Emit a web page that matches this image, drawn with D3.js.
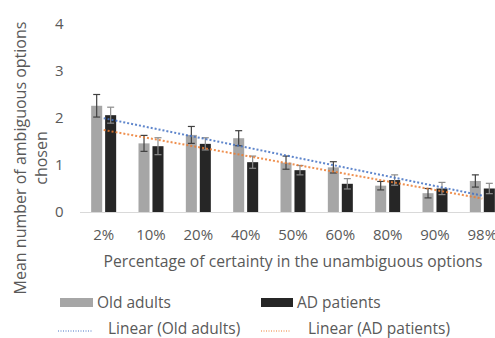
<!DOCTYPE html>
<html>
<head>
<meta charset="utf-8">
<script src="https://cdn.jsdelivr.net/npm/d3@7"></script>
<style>
  html, body { margin: 0; padding: 0; background: #fff; }
  svg { display: block; }
  text { font-family: "Open Sans", sans-serif; fill: #595959; }
</style>
</head>
<body>
<svg id="chart" width="495" height="338"></svg>
<script>
const categories = ["2%", "10%", "20%", "40%", "50%", "60%", "80%", "90%", "98%"];
const oldAdults = [2.26, 1.46, 1.64, 1.57, 1.05, 0.95, 0.56, 0.40, 0.66];
const oldAdultsErr = [0.24, 0.17, 0.18, 0.16, 0.14, 0.12, 0.09, 0.10, 0.13];
const adPatients = [2.06, 1.40, 1.45, 1.06, 0.89, 0.60, 0.68, 0.50, 0.50];
const adPatientsErr = [0.17, 0.18, 0.13, 0.13, 0.10, 0.11, 0.11, 0.13, 0.11];
const yTicks = [0, 1, 2, 3, 4];
const seriesNames = ["Old adults", "AD patients"];
const trendNames = ["Linear (Old adults)", "Linear (AD patients)"];
const xTitle = "Percentage of certainty in the unambiguous options";
const yTitleLines = ["Mean number of ambiguous options", "chosen"];

const svg = d3.select("#chart");
const colors = { bar: ["#a6a6a6", "#262626"], err: ["#404040", "#8c8c8c"], trend: ["#4472c4", "#ed7d31"] };

const x0 = d3.scaleBand().domain(categories).range([80, 506]).padding(0);
const bw = x0.bandwidth();
const x1 = d3.scaleBand().domain(seriesNames).range([bw / 2 - 12.5, bw / 2 + 12.5]).paddingInner(0.21);
const y = d3.scaleLinear().domain([0, 4]).range([212, 24]);

// y tick labels
svg.append("g").selectAll("text").data(yTicks).join("text")
  .attr("x", 63.5).attr("y", d => y(d)).attr("dy", "0.35em")
  .attr("text-anchor", "end").style("font-size", "15px").text(d => d);

// baseline axis
svg.append("line").attr("x1", 80).attr("x2", 506).attr("y1", y(0) + 0.5).attr("y2", y(0) + 0.5)
  .attr("stroke", "#d9d9d9").attr("stroke-width", 1);

const series = [
  { name: seriesNames[0], vals: oldAdults, err: oldAdultsErr, i: 0 },
  { name: seriesNames[1], vals: adPatients, err: adPatientsErr, i: 1 }
];

series.forEach(s => {
  const g = svg.append("g");
  g.selectAll("rect").data(categories).join("rect")
    .attr("x", (c) => x0(c) + x1(s.name))
    .attr("width", x1.bandwidth())
    .attr("y", (c, k) => y(s.vals[k]))
    .attr("height", (c, k) => y(0) - y(s.vals[k]))
    .attr("fill", colors.bar[s.i]);
});

// error bars
series.forEach(s => {
  const g = svg.append("g").attr("stroke", colors.err[s.i]).attr("stroke-width", 1.2);
  categories.forEach((c, k) => {
    const cx = x0(c) + x1(s.name) + x1.bandwidth() / 2;
    const hi = y(s.vals[k] + s.err[k]), lo = y(s.vals[k] - s.err[k]);
    g.append("line").attr("x1", cx).attr("x2", cx).attr("y1", hi).attr("y2", lo);
    g.append("line").attr("x1", cx - 3.5).attr("x2", cx + 3.5).attr("y1", hi).attr("y2", hi);
    g.append("line").attr("x1", cx - 3.5).attr("x2", cx + 3.5).attr("y1", lo).attr("y2", lo);
  });
});

// linear trendlines (least squares)
function fit(vals) {
  const n = vals.length, xs = vals.map((v, i) => i + 1);
  const mx = d3.mean(xs), my = d3.mean(vals);
  const sxy = d3.sum(xs, (xv, i) => (xv - mx) * (vals[i] - my));
  const sxx = d3.sum(xs, xv => (xv - mx) * (xv - mx));
  const b = sxy / sxx, a = my - b * mx;
  return [a + b * 1, a + b * n];
}
series.forEach(s => {
  const [v1, v2] = fit(s.vals);
  svg.append("line")
    .attr("x1", x0(categories[0]) + bw / 2).attr("y1", y(v1))
    .attr("x2", x0(categories[categories.length - 1]) + bw / 2).attr("y2", y(v2))
    .attr("stroke", colors.trend[s.i]).attr("stroke-width", 2)
    .attr("stroke-dasharray", "2 2").attr("opacity", 0.85);
});

// x tick labels
svg.append("g").selectAll("text").data(categories).join("text")
  .attr("x", c => x0(c) + bw / 2).attr("y", 235).attr("dy", "0.35em")
  .attr("text-anchor", "middle").style("font-size", "15px").text(c => c);

// x title
svg.append("text").attr("x", 293).attr("y", 262).attr("dy", "0.35em")
  .attr("text-anchor", "middle").style("font-size", "15.7px").text(xTitle);

// y title
const yt = svg.append("text").attr("transform", "translate(0,158) rotate(-90)")
  .attr("text-anchor", "middle").style("font-size", "16px");
yt.append("tspan").attr("x", 0).attr("y", 26).text(yTitleLines[0]);
yt.append("tspan").attr("x", 0).attr("y", 47).text(yTitleLines[1]);

// legend
const leg = svg.append("g").style("font-size", "15.5px");
leg.append("rect").attr("x", 60).attr("y", 298).attr("width", 33).attr("height", 9).attr("fill", colors.bar[0]);
leg.append("text").attr("x", 97).attr("y", 308).text(seriesNames[0]);
leg.append("rect").attr("x", 261).attr("y", 298).attr("width", 32).attr("height", 9).attr("fill", colors.bar[1]);
leg.append("text").attr("x", 297).attr("y", 308).text(seriesNames[1]);
leg.append("line").attr("x1", 58).attr("x2", 93).attr("y1", 331).attr("y2", 331)
  .attr("stroke", colors.trend[0]).attr("stroke-width", 1).attr("stroke-dasharray", "1 1.5");
leg.append("text").attr("x", 108).attr("y", 334).text(trendNames[0]);
leg.append("line").attr("x1", 261).attr("x2", 290).attr("y1", 331).attr("y2", 331)
  .attr("stroke", colors.trend[1]).attr("stroke-width", 1).attr("stroke-dasharray", "1 1.5");
leg.append("text").attr("x", 308).attr("y", 334).text(trendNames[1]);
</script>
</body>
</html>
